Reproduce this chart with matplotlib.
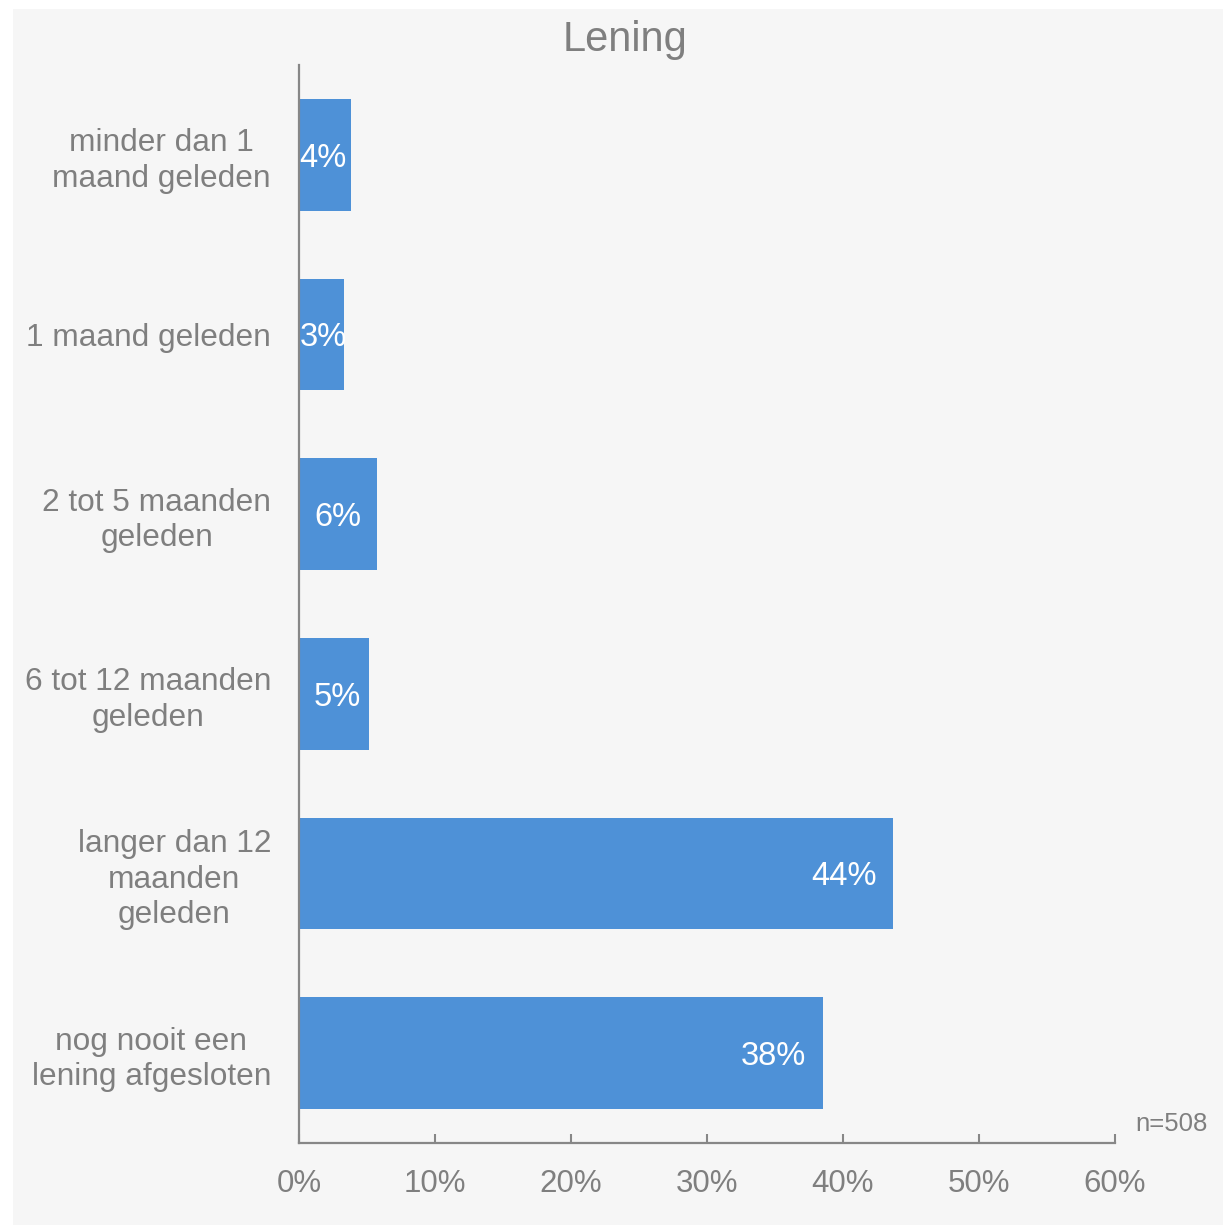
import matplotlib
matplotlib.use("Agg")
import matplotlib.pyplot as plt
from matplotlib.patches import Rectangle
import matplotlib.transforms as mtransforms

categories = [
    "minder dan 1\nmaand geleden",
    "1 maand geleden",
    "2 tot 5 maanden\ngeleden",
    "6 tot 12 maanden\ngeleden",
    "langer dan 12\nmaanden\ngeleden",
    "nog nooit een\nlening afgesloten",
]
values = [3.8, 3.3, 5.7, 5.15, 43.7, 38.5]
value_labels = ["4%", "3%", "6%", "5%", "44%", "38%"]
xticks = [0, 10, 20, 30, 40, 50, 60]
xtick_labels = ["0%", "10%", "20%", "30%", "40%", "50%", "60%"]
title = "Lening"
note = "n=508"

plt.rcParams['font.family'] = ['Liberation Sans', 'DejaVu Sans']
TEXT = '#7f7f7f'
BAR = '#4e91d7'
AXIS = '#878787'
BG = '#f6f6f6'

fig = plt.figure(figsize=(12.23, 12.25), dpi=100, facecolor='white')
bg = Rectangle((13 / 1223, 0), 1 - 13 / 1223, 1 - 9 / 1225,
               transform=fig.transFigure, facecolor=BG,
               edgecolor='none', zorder=-10)
fig.patches.append(bg)

ax = fig.add_axes([299 / 1223, 1 - 1143 / 1225, 816 / 1223, 1078 / 1225])
ax.set_facecolor('none')
ax.set_zorder(5)

y = list(range(len(categories)))
ax.barh(y, values, height=0.622, color=BAR, zorder=2)
ax.set_ylim(len(categories) - 0.5, -0.5)
ax.set_xlim(0, 60)

for yi, v, lab in zip(y, values, value_labels):
    if v < 4.5:
        ax.text(0.05, yi, lab, ha='left', va='center_baseline', color='white',
                fontsize=23.5, zorder=3)
    else:
        ax.text(max(v - 1.2, 4.55), yi, lab, ha='right', va='center_baseline',
                color='white', fontsize=23.5, zorder=3)

ax.set_yticks(y)
ax.set_yticklabels(categories, fontsize=22.8, color=TEXT, ha='center',
                   multialignment='center', linespacing=1.24)
ax.tick_params(axis='y', length=0, pad=0)
fig.canvas.draw()
renderer = fig.canvas.get_renderer()
for t in ax.get_yticklabels():
    bb = t.get_window_extent(renderer)
    w = bb.width
    offset = mtransforms.ScaledTranslation(-(28 + w / 2) / 100, 0, fig.dpi_scale_trans)
    t.set_transform(t.get_transform() + offset)

ax.set_xticks(xticks)
ax.set_xticklabels(xtick_labels, fontsize=22.5, color=TEXT)
ax.tick_params(axis='x', direction='in', length=6.5, width=1.5, color=AXIS, pad=19)

for s in ['top', 'right']:
    ax.spines[s].set_visible(False)
for s in ['left', 'bottom']:
    ax.spines[s].set_color(AXIS)
    ax.spines[s].set_linewidth(1.6)

fig.text(625 / 1223, 1 - 40 / 1225, title, ha='center', va='center',
         fontsize=30, color=TEXT)
fig.text(1208 / 1223, 1 - 1124 / 1225, note, ha='right', va='center',
         fontsize=18.5, color=TEXT)

fig.savefig('out.png', dpi=100, facecolor='white')
